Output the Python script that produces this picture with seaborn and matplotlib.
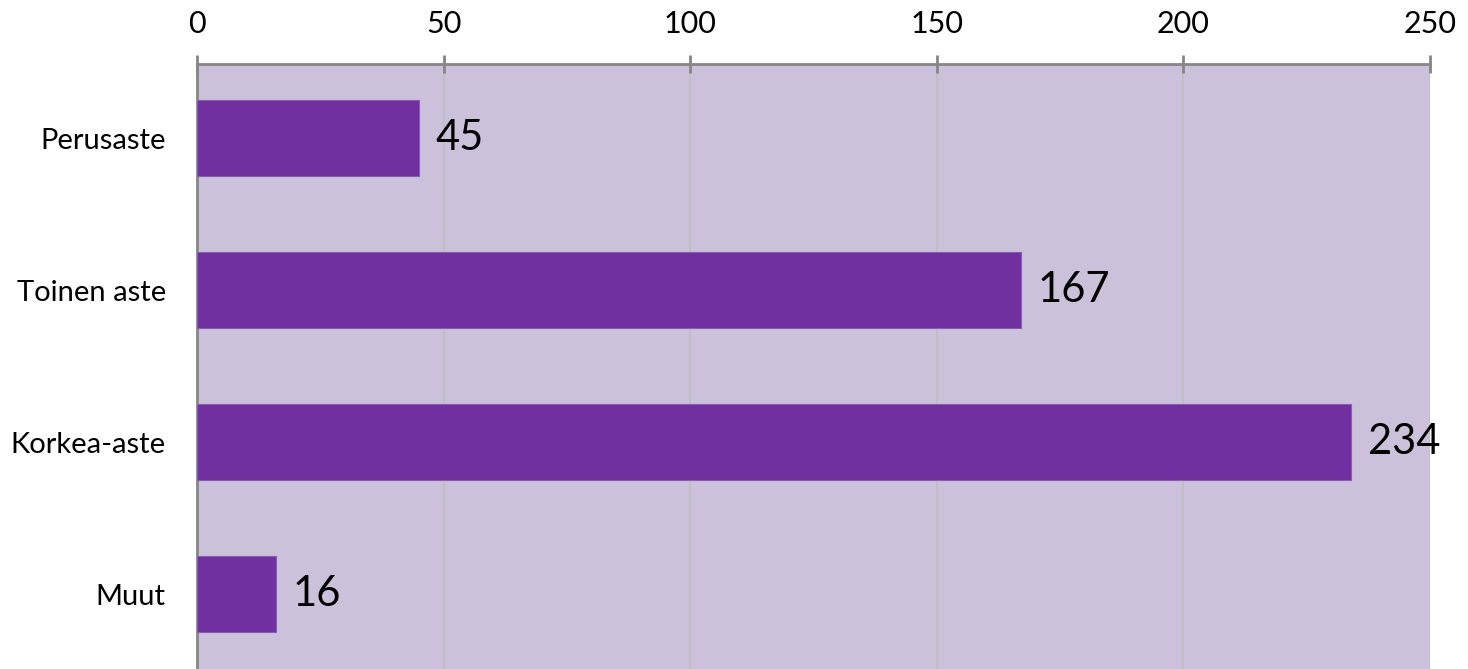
import matplotlib
matplotlib.use("Agg")
import matplotlib.pyplot as plt
import seaborn as sns
import pandas as pd

categories = ["Perusaste", "Toinen aste", "Korkea-aste", "Muut"]
values = [45, 167, 234, 16]
xticks = [0, 50, 100, 150, 200, 250]

df = pd.DataFrame({"cat": categories, "val": values})

sns.set_style("white")
plt.rcParams["font.family"] = ["Lato", "DejaVu Sans"]

fig = plt.figure(figsize=(14.68, 6.69), dpi=100)
ax = fig.add_axes([197/1468, -0.002, (1430-197)/1468, 1 - 64/669 + 0.002])
ax.set_facecolor("#CCC1DA")

sns.barplot(data=df, x="val", y="cat", orient="h", color="#7030A0",
            saturation=1, width=0.5, ax=ax, zorder=3,
            edgecolor="#8A5AB5", linewidth=0.8)

ax.set_xlim(0, 250)
ax.set_ylim(3.5, -0.49)
ax.set_xticks(xticks)
ax.xaxis.tick_top()
ax.xaxis.set_label_position("top")
ax.set_xlabel("")
ax.set_ylabel("")
ax.grid(axis="x", color="#BFBFBF", linewidth=1.3, zorder=0)
ax.set_axisbelow(True)

for s in ["right", "bottom"]:
    ax.spines[s].set_visible(False)
for s in ["top", "left"]:
    ax.spines[s].set_color("#868686")
    ax.spines[s].set_linewidth(2)

ax.tick_params(axis="x", which="both", top=True, bottom=False, length=13,
               direction="inout", width=2, color="#868686", labelsize=22,
               pad=12, labelcolor="#000000")
ax.tick_params(axis="y", left=False, labelsize=21, pad=19, labelcolor="#000000")

for i, v in enumerate(values):
    ax.text(v + 3.4, i, str(v), va="center", ha="left", fontsize=30, color="#000000")

fig.savefig("out.png", dpi=100, facecolor="white")
